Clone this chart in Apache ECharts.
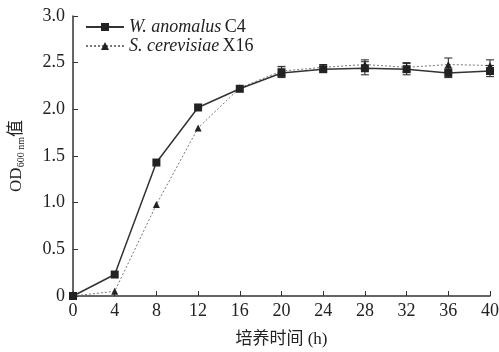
<!DOCTYPE html>
<html>
<head>
<meta charset="utf-8">
<script src="https://cdn.jsdelivr.net/npm/echarts@6/dist/echarts.min.js"></script>
<style>
  html, body { margin: 0; padding: 0; background: #fff; }
  #chart { width: 499px; height: 352px; }
</style>
</head>
<body>
<div id="chart"></div>
<script>
// time points (h)
var hours = [0, 4, 8, 12, 16, 20, 24, 28, 32, 36, 40];
var wAnomalus = [0, 0.23, 1.43, 2.02, 2.22, 2.39, 2.43, 2.44, 2.43, 2.39, 2.41];
var wAnomalusErr = [0, 0.01, 0.01, 0.01, 0.01, 0.05, 0.03, 0.07, 0.06, 0.05, 0.06];
var sCerevisiae = [0, 0.05, 0.98, 1.80, 2.23, 2.41, 2.45, 2.48, 2.45, 2.48, 2.47];
var sCerevisiaeErr = [0, 0.01, 0.01, 0.01, 0.01, 0.05, 0.03, 0.05, 0.05, 0.07, 0.06];
var yTicks = [0, 0.5, 1.0, 1.5, 2.0, 2.5, 3.0];

var serif = '"Liberation Serif", "DejaVu Serif", serif';
var cjk = '"Liberation Serif", "Noto Sans CJK SC", serif';

function errData(vals, errs) {
    return hours.map(function (h, i) { return [h, vals[i] - errs[i], vals[i] + errs[i]]; });
}

function errRender(params, api) {
    var x = api.value(0);
    var lo = api.coord([x, api.value(1)]);
    var hi = api.coord([x, api.value(2)]);
    if (hi[1] - lo[1] > -2) return null;
    var w = 4;
    var style = {stroke: '#222', lineWidth: 1};
    return {
        type: 'group',
        children: [
            {type: 'line', shape: {x1: lo[0], y1: lo[1], x2: hi[0], y2: hi[1]}, style: style},
            {type: 'line', shape: {x1: lo[0] - w, y1: lo[1], x2: lo[0] + w, y2: lo[1]}, style: style},
            {type: 'line', shape: {x1: hi[0] - w, y1: hi[1], x2: hi[0] + w, y2: hi[1]}, style: style}
        ]
    };
}

var chart = echarts.init(document.getElementById('chart'));

var option = {
    backgroundColor: '#fff',
    animation: false,
    grid: {left: 73, right: 9, top: 16, bottom: 56, outerBoundsMode: 'none'},
    legend: {
        left: 80,
        top: 13,
        orient: 'vertical',
        itemGap: 1,
        itemWidth: 38,
        itemHeight: 10,
        data: ['W. anomalus C4', 'S. cerevisiae X16'],
        formatter: function (name) {
            var parts = name.split(' ');
            var strain = parts.pop();
            return '{i|' + parts.join(' ') + '} {n|' + strain + '}';
        },
        textStyle: {
            rich: {
                i: {fontFamily: serif, fontStyle: 'italic', fontSize: 18, color: '#222'},
                n: {fontFamily: serif, fontSize: 18, color: '#222'}
            }
        }
    },
    xAxis: {
        type: 'value',
        min: 0,
        max: 40,
        interval: 4,
        name: '培养时间 (h)',
        nameLocation: 'middle',
        nameGap: 35,
        nameTextStyle: {fontFamily: cjk, fontSize: 17, color: '#222'},
        axisLine: {lineStyle: {color: '#333', width: 1.5}},
        axisTick: {inside: true, length: 5, lineStyle: {color: '#333'}},
        axisLabel: {fontFamily: serif, fontSize: 18, color: '#222', margin: 6},
        splitLine: {show: false}
    },
    yAxis: {
        type: 'value',
        min: 0,
        max: 3,
        interval: 0.5,
        name: '{a|OD}{s|600 nm}{a|值}',
        nameLocation: 'middle',
        nameGap: 47,
        nameTextStyle: {
            rich: {
                a: {fontFamily: cjk, fontSize: 17, color: '#222'},
                s: {fontFamily: serif, fontSize: 10, color: '#222', verticalAlign: 'bottom', padding: [8, 0, 0, 0]}
            }
        },
        axisLine: {show: true, lineStyle: {color: '#333', width: 1.5}},
        axisTick: {show: true, inside: true, length: 5, lineStyle: {color: '#333'}},
        axisLabel: {
            fontFamily: serif, fontSize: 18, color: '#222', margin: 8,
            formatter: function (v) {
                var t = yTicks.filter(function (k) { return Math.abs(k - v) < 1e-6; })[0];
                return t === 0 ? '0' : t.toFixed(1);
            }
        },
        splitLine: {show: false}
    },
    series: [
        {
            name: 'W. anomalus C4',
            type: 'line',
            data: hours.map(function (h, i) { return [h, wAnomalus[i]]; }),
            symbol: 'rect',
            symbolSize: 8,
            itemStyle: {color: '#222'},
            lineStyle: {color: '#333', width: 1.5},
            z: 3
        },
        {
            name: 'S. cerevisiae X16',
            type: 'line',
            data: hours.map(function (h, i) { return [h, sCerevisiae[i]]; }),
            symbol: 'triangle',
            symbolSize: 7,
            itemStyle: {color: '#222'},
            lineStyle: {color: '#777', width: 1, type: [2, 2]},
            z: 2
        },
        {
            type: 'custom',
            renderItem: errRender,
            data: errData(wAnomalus, wAnomalusErr),
            encode: {x: 0, y: [1, 2]},
            silent: true,
            z: 4
        },
        {
            type: 'custom',
            renderItem: errRender,
            data: errData(sCerevisiae, sCerevisiaeErr),
            encode: {x: 0, y: [1, 2]},
            silent: true,
            z: 4
        }
    ]
};

chart.setOption(option);
</script>
</body>
</html>
